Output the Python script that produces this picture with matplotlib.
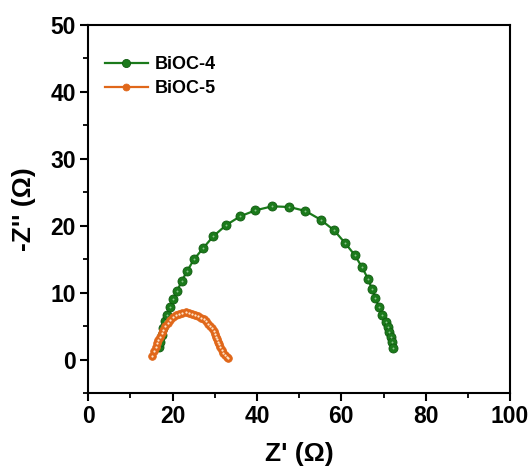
import numpy as np
import matplotlib
matplotlib.use('Agg')
import matplotlib.pyplot as plt
from matplotlib.ticker import MultipleLocator

plt.rcParams['font.family'] = ['Liberation Sans', 'DejaVu Sans']
plt.rcParams['font.weight'] = 'bold'

# BiOC-4 Nyquist data (Z', -Z'')
z4_re = [16.8, 17.1, 17.4, 17.8, 18.2, 18.7, 19.4, 20.2, 21.1, 22.2, 23.5, 25.1,
         27.3, 29.6, 32.7, 36.0, 39.6, 43.6, 47.7, 51.5, 55.1, 58.3, 60.9, 63.2,
         64.9, 66.3, 67.2, 68.1, 68.9, 69.7, 70.5, 71.1, 71.4, 71.7, 71.9, 72.2]
z4_im = [1.8, 2.6, 3.6, 4.7, 5.7, 6.7, 7.8, 9.0, 10.3, 11.8, 13.3, 15.0,
         16.7, 18.4, 20.1, 21.4, 22.3, 22.9, 22.8, 22.2, 20.9, 19.3, 17.4, 15.6,
         13.8, 12.1, 10.6, 9.2, 7.8, 6.7, 5.6, 4.8, 4.1, 3.3, 2.6, 1.75]

# BiOC-5 Nyquist data
z5_re = [15.18, 15.58, 15.98, 16.29, 16.60, 17.00, 17.41, 17.79, 18.26, 18.83,
         19.45, 20.09, 20.80, 21.51, 22.29, 23.10, 23.88, 24.66, 25.37, 26.09,
         26.73, 27.37, 27.91, 28.46, 28.93, 29.33, 29.74, 30.05, 30.35, 30.59,
         30.83, 31.06, 31.30, 31.63, 32.01, 32.42, 32.89, 33.20]
z5_im = [0.60, 1.24, 1.84, 2.44, 2.95, 3.44, 3.94, 4.45, 4.94, 5.44,
         5.94, 6.33, 6.63, 6.84, 6.99, 7.04, 6.99, 6.84, 6.69, 6.48,
         6.24, 5.99, 5.69, 5.34, 4.99, 4.64, 4.24, 3.84, 3.44, 3.04,
         2.64, 2.25, 1.84, 1.45, 1.05, 0.75, 0.45, 0.30]

green = '#1b7a1b'
orange = '#e0671a'

fig = plt.figure(figsize=(5.31, 4.72), dpi=100)
ax = fig.add_axes([0.1663, 0.1674, 0.7942, 0.7796])

ax.plot(z4_re, z4_im, '-o', color=green, lw=1.6, ms=6.5,
        mfc=green, mec='#0f5a0f', mew=0.6, label='BiOC-4', zorder=2)
ax.plot(z5_re, z5_im, '-o', color=orange, lw=1.6, ms=5.5,
        mfc=orange, mec=orange, mew=0.6, label='BiOC-5', zorder=3)
# small highlights on the spheres
ax.plot(z4_re, z4_im, 'o', color='#8cc48c', ms=1.4, mew=0, zorder=2.5)
ax.plot(z5_re, z5_im, 'o', color='#ffe6cc', ms=1.6, mew=0, zorder=3.5)

ax.set_xlim(0, 100)
ax.set_ylim(-5, 50)
ax.xaxis.set_major_locator(MultipleLocator(20))
ax.xaxis.set_minor_locator(MultipleLocator(10))
ax.yaxis.set_major_locator(MultipleLocator(10))
ax.yaxis.set_minor_locator(MultipleLocator(5))
ax.tick_params(which='major', direction='out', length=6, width=1.5,
               labelsize=16.5, top=False, right=False, pad=3)
ax.tick_params(which='minor', direction='out', length=3.5, width=1.3,
               top=False, right=False)
for s in ax.spines.values():
    s.set_linewidth(1.5)

ax.set_xlabel("Z' (\u03a9)", fontsize=19, fontweight='bold', labelpad=10)
ax.set_ylabel("-Z'' (\u03a9)", fontsize=19, fontweight='bold', labelpad=10)

ax.legend(loc='upper left', frameon=False, fontsize=13,
          handlelength=2.4, handletextpad=0.4, labelspacing=0.4,
          bbox_to_anchor=(0.0, 0.96), markerscale=0.9)

fig.savefig('out.png', dpi=100)
